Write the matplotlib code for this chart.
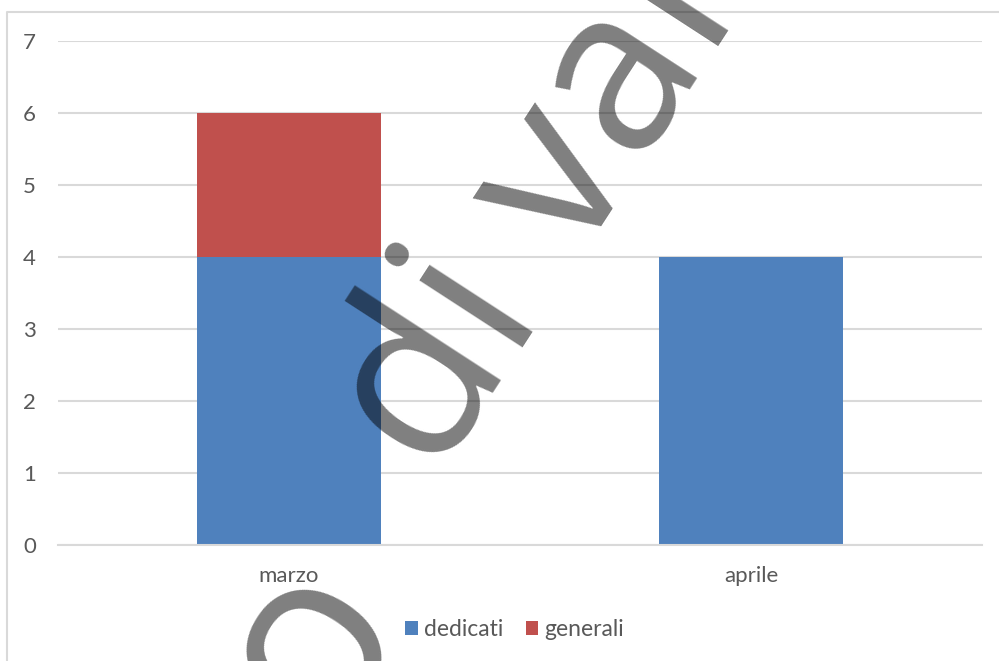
import os

os.environ.setdefault("MPLBACKEND", "Agg")

import numpy as np
import matplotlib.pyplot as plt
from matplotlib.lines import Line2D

# data
months = ["marzo", "aprile"]
dedicati = [4, 4]
generali = [2, 0]
y_ticks = [0, 1, 2, 3, 4, 5, 6, 7]

BLUE = "#4F81BD"
RED = "#C0504D"
GRID = "#D9D9D9"
TEXT = "#595959"


def main():
    plt.rcParams["font.family"] = ["Lato", "DejaVu Sans"]

    fig = plt.figure(figsize=(9.99, 6.61), dpi=100)
    ax = fig.add_axes([58 / 999, 116 / 661, 924 / 999, 504 / 661])

    x = np.arange(len(months))
    ax.bar(x, dedicati, width=0.4, color=BLUE, label="dedicati", zorder=2)
    ax.bar(x, generali, width=0.4, bottom=dedicati, color=RED,
           label="generali", zorder=2)

    ax.set_xlim(-0.5, len(months) - 0.5)
    ax.set_ylim(0, 7)
    ax.set_yticks(y_ticks)
    ax.set_xticks(x)
    ax.set_xticklabels(months)
    ax.yaxis.grid(True, color=GRID, linewidth=1.5, zorder=0)
    ax.set_axisbelow(True)
    for side in ["left", "right", "top"]:
        ax.spines[side].set_visible(False)
    ax.spines["bottom"].set_color(GRID)
    ax.spines["bottom"].set_linewidth(1.5)
    ax.tick_params(axis="y", length=0, pad=16, labelsize=16, labelcolor=TEXT)
    ax.tick_params(axis="x", length=0, pad=15, labelsize=16, labelcolor=TEXT)

    fig.legend(loc="center", bbox_to_anchor=(514.5 / 999, 1 - 630 / 661),
               ncol=2, frameon=False, fontsize=16.5, labelcolor=TEXT,
               handlelength=0.55, handleheight=0.55, handletextpad=0.25,
               columnspacing=1.0, borderpad=0)

    # chart frame (only left and top edges are visible in the crop)
    fig.add_artist(Line2D([7 / 999, 7 / 999, 1.0], [0.0, 1 - 12 / 661, 1 - 12 / 661],
                          transform=fig.transFigure, color=GRID, linewidth=1.5))

    # watermark
    wm_font = ["Liberation Sans Narrow", "Open Sans", "DejaVu Sans"]
    fig.text(436 / 999, 1 - 481 / 661, "di vall", family=wm_font,
             fontsize=165, rotation=57, rotation_mode="anchor", ha="left",
             va="baseline", color="black", alpha=0.5, zorder=10)
    fig.text(364 / 999, 1 - 679 / 661, "o", family=wm_font,
             fontsize=175, rotation=57, rotation_mode="anchor", ha="center",
             va="baseline", color="black", alpha=0.5, zorder=10)

    fig.savefig("out.png", dpi=100)
    plt.close(fig)


if __name__ == "__main__":
    main()
